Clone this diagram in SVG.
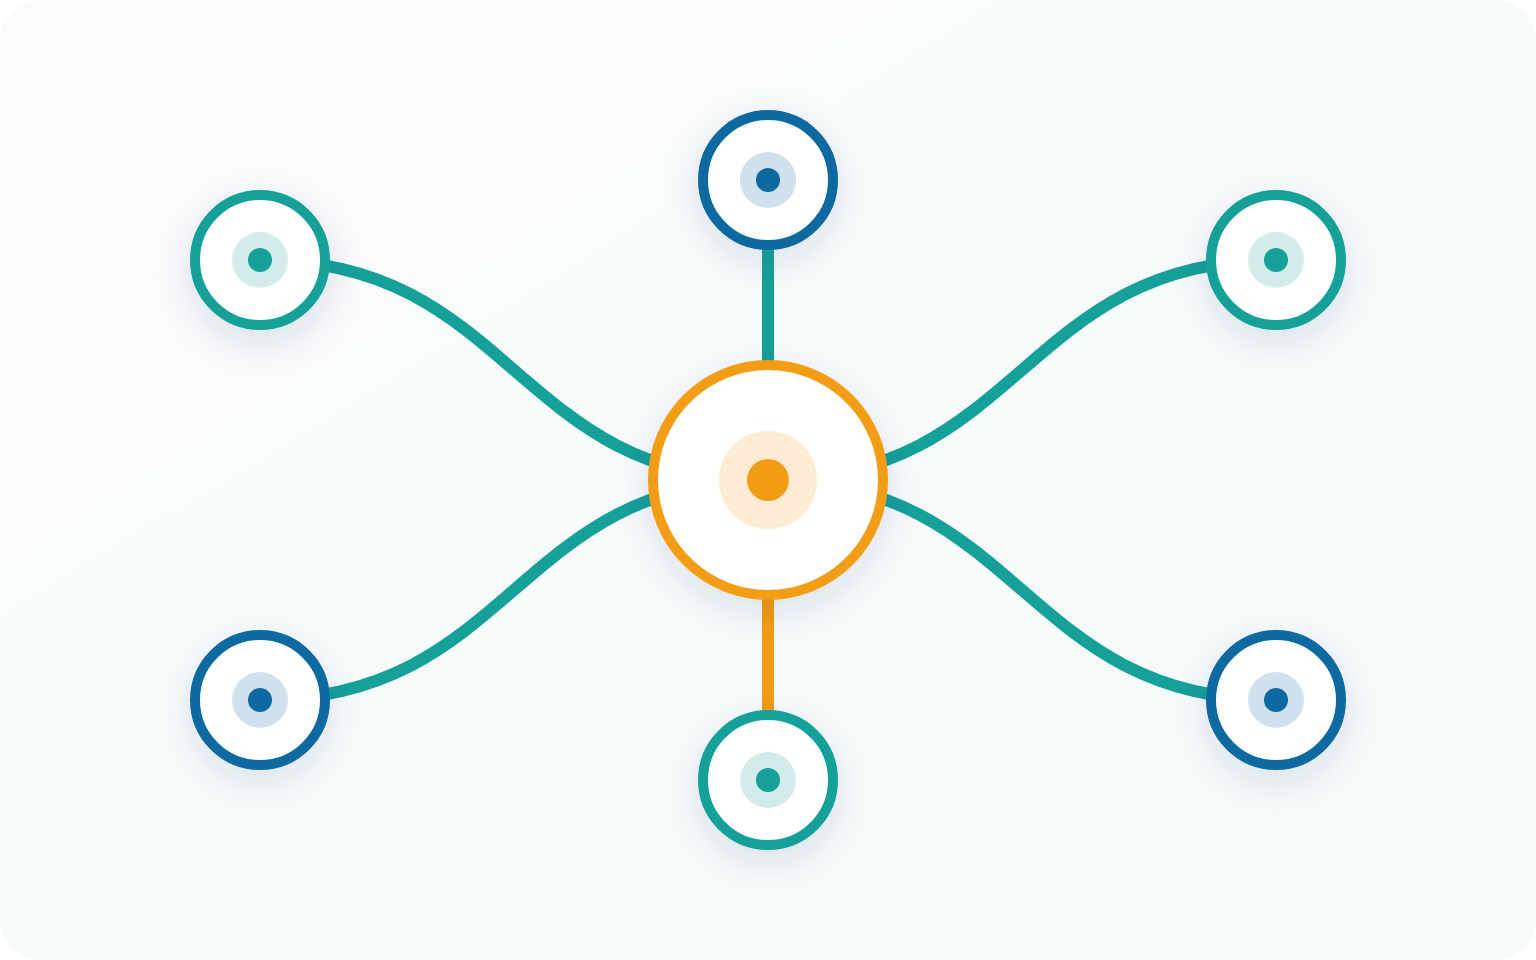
<svg xmlns="http://www.w3.org/2000/svg" width="1536" height="960" viewBox="0 0 1536 960">
<defs>
<linearGradient id="bg" x1="0" y1="0" x2="1" y2="1">
<stop offset="0" stop-color="#FAFBFD"/>
<stop offset="1" stop-color="#F5FAFA"/>
</linearGradient>
<filter id="sh" x="-60%" y="-60%" width="220%" height="220%">
<feDropShadow dx="0" dy="12" stdDeviation="18" flood-color="#1E3A5F" flood-opacity="0.12"/>
</filter>
<style>
.edge{fill:none;stroke-width:12;stroke-linecap:butt}
.teal{stroke:#16A09A}
.orange{stroke:#F39C12}
.node{fill:#FFFFFF;stroke-width:10}
.nt{stroke:#16A09A}
.nb{stroke:#0A69A0}
.no{stroke:#F39C12}
.ht{fill:#D3ECEB}
.hb{fill:#CFE1EC}
.ho{fill:#FDEBD3}
.dt{fill:#16A09A}
.db{fill:#0A69A0}
.do{fill:#F39C12}
</style>
</defs>
<rect x="0" y="0" width="1536" height="960" rx="40" fill="url(#bg)"/>
<g id="connectors">
<path class="edge teal" d="M260 260 C514 260 514 480 768 480"/>
<path class="edge teal" d="M1276 260 C1022 260 1022 480 768 480"/>
<path class="edge teal" d="M260 700 C514 700 514 480 768 480"/>
<path class="edge teal" d="M1276 700 C1022 700 1022 480 768 480"/>
<line class="edge teal" x1="768" y1="180" x2="768" y2="480"/>
<line class="edge orange" x1="768" y1="480" x2="768" y2="780"/>
</g>
<g id="center" filter="url(#sh)">
<circle class="node no" cx="768" cy="480" r="115"/>
<circle class="ho" cx="768" cy="480" r="49"/>
<circle class="do" cx="768" cy="480" r="21"/>
</g>
<g id="node-top" filter="url(#sh)">
<circle class="node nb" cx="768" cy="180" r="65"/>
<circle class="hb" cx="768" cy="180" r="28"/>
<circle class="db" cx="768" cy="180" r="12"/>
</g>
<g id="node-top-left" filter="url(#sh)">
<circle class="node nt" cx="260" cy="260" r="65"/>
<circle class="ht" cx="260" cy="260" r="28"/>
<circle class="dt" cx="260" cy="260" r="12"/>
</g>
<g id="node-top-right" filter="url(#sh)">
<circle class="node nt" cx="1276" cy="260" r="65"/>
<circle class="ht" cx="1276" cy="260" r="28"/>
<circle class="dt" cx="1276" cy="260" r="12"/>
</g>
<g id="node-bottom-left" filter="url(#sh)">
<circle class="node nb" cx="260" cy="700" r="65"/>
<circle class="hb" cx="260" cy="700" r="28"/>
<circle class="db" cx="260" cy="700" r="12"/>
</g>
<g id="node-bottom" filter="url(#sh)">
<circle class="node nt" cx="768" cy="780" r="65"/>
<circle class="ht" cx="768" cy="780" r="28"/>
<circle class="dt" cx="768" cy="780" r="12"/>
</g>
<g id="node-bottom-right" filter="url(#sh)">
<circle class="node nb" cx="1276" cy="700" r="65"/>
<circle class="hb" cx="1276" cy="700" r="28"/>
<circle class="db" cx="1276" cy="700" r="12"/>
</g>
</svg>
